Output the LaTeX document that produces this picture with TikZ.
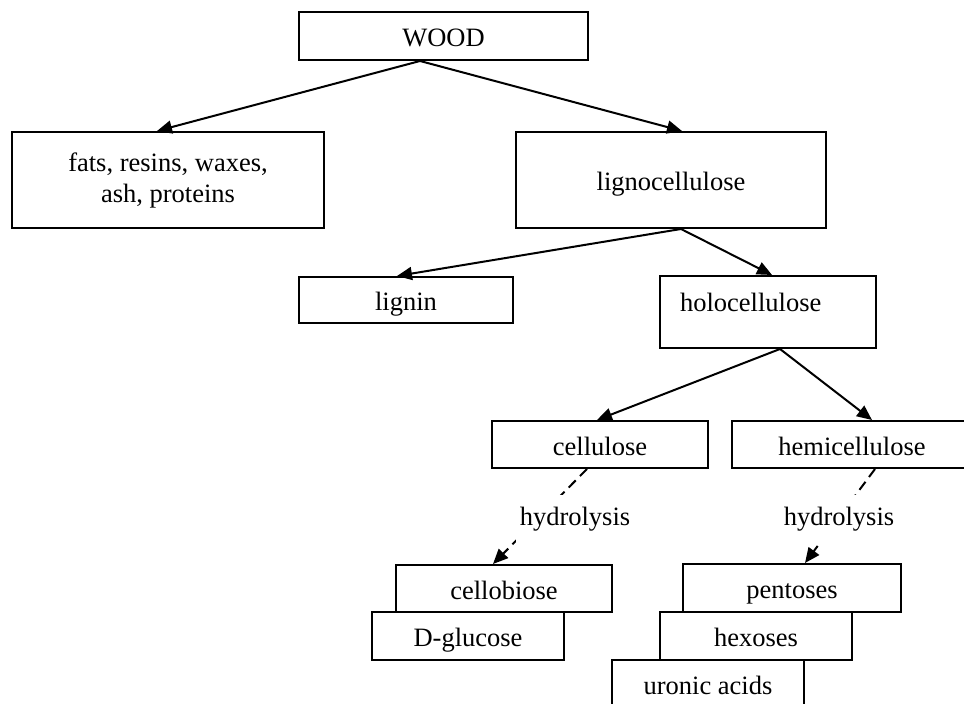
\documentclass[tikz,border=0pt]{standalone}
\usepackage{fontspec}
\setmainfont{Liberation Serif}
\usetikzlibrary{arrows.meta}
\begin{document}
\begin{tikzpicture}[x=0.5pt,y=-0.5pt,
  txt/.style={font=\fontsize{13.25}{15.5}\selectfont},
  box/.style={txt,draw,line width=1pt,rectangle,inner sep=0pt,align=center},
  one/.style={text height=12pt,text depth=1pt},
  conn/.style={line width=1pt,-{Triangle[length=7.5pt,width=6.5pt]}},
  dconn/.style={conn,dash pattern=on 5pt off 3pt},
  lbl/.style={txt,fill=white,inner xsep=2pt,inner ysep=6pt}]
\clip (0,0) rectangle (964,704);
\fill[white] (0,0) rectangle (964,704);
% boxes
\node[box,one,minimum width=144.5pt,minimum height=24pt] (wood) at (443.5,36) {WOOD};
\node[box,minimum width=156pt,minimum height=48pt] (fats) at (168,180) {fats, resins, waxes,\\ash, proteins};
\node[box,one,minimum width=155pt,minimum height=48pt] (ligno) at (671,180) {lignocellulose};
\node[box,one,minimum width=107pt,minimum height=23pt] (lignin) at (406,300) {lignin};
\node[box,minimum width=108pt,minimum height=36pt,text width=88pt,align=left,inner xsep=10pt,text height=9pt,text depth=9pt] (holo) at (768,312) {holocellulose};
\node[box,one,minimum width=108pt,minimum height=23.5pt] (cell) at (600,444.5) {cellulose};
\node[box,one,minimum width=120pt,minimum height=23.5pt] (hemi) at (852,444.5) {hemicellulose};
\node[box,one,minimum width=108pt,minimum height=23.5pt] (cellob) at (504,588.5) {cellobiose};
\node[box,one,minimum width=96pt,minimum height=24pt] (gluc) at (468,636) {D-glucose};
\node[box,one,minimum width=109pt,minimum height=24pt] (pent) at (792,588) {pentoses};
\node[box,one,minimum width=96pt,minimum height=24pt] (hex) at (756,636) {hexoses};
\node[box,one,minimum width=96pt,minimum height=24pt] (uron) at (708,684) {uronic acids};
% connectors
\draw[conn] ([xshift=-11.75pt]wood.south) -- ([xshift=-5.5pt]fats.north);
\draw[conn] ([xshift=-11.75pt]wood.south) -- ([xshift=5.5pt]ligno.north);
\draw[conn] ([xshift=5pt]ligno.south) -- ([xshift=-4.5pt]lignin.north);
\draw[conn] ([xshift=5pt]ligno.south) -- ([xshift=2pt]holo.north);
\draw[conn] ([xshift=6pt]holo.south) -- ([xshift=-1.5pt]cell.north);
\draw[conn] ([xshift=6pt]holo.south) -- ([xshift=10pt]hemi.north);
\draw[dconn] ([xshift=-6.5pt]cell.south) -- ([xshift=-5.5pt]cellob.north);
\draw[dconn] ([xshift=11.5pt]hemi.south) -- ([xshift=6.5pt]pent.north);
% labels over dashed lines
\node[lbl] (hyd1) at (575,519) {hydrolysis};
\node[lbl] (hyd2) at (839,519) {hydrolysis};
\end{tikzpicture}
\end{document}
